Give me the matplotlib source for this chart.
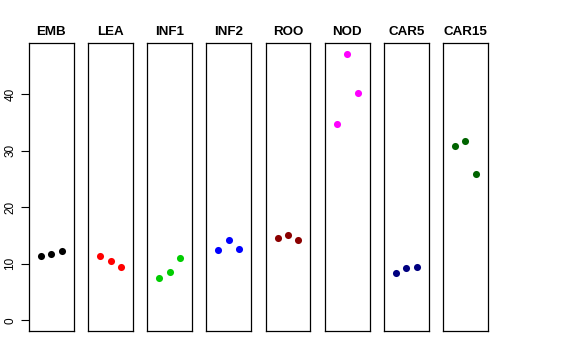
import matplotlib.pyplot as plt

plt.rcParams['font.family'] = ['Liberation Sans', 'DejaVu Sans']

# groups and their three replicate values
groups = ['EMB', 'LEA', 'INF1', 'INF2', 'ROO', 'NOD', 'CAR5', 'CAR15']
values = [
    [11.4, 11.8, 12.35],
    [11.35, 10.5, 9.4],
    [7.45, 8.5, 11.05],
    [12.5, 14.2, 12.6],
    [14.6, 15.1, 14.25],
    [34.8, 47.2, 40.3],
    [8.35, 9.2, 9.5],
    [30.9, 31.8, 25.9],
]
colors = ['black', 'red', '#00CD00', 'blue', '#8B0000', 'magenta', '#000080', '#006400']
yticks = [0, 10, 20, 30, 40]

fig = plt.figure(figsize=(5.76, 3.6), dpi=100)

ymax = max(max(v) for v in values)
pad_y = ymax * 0.04
W, H = 576.0, 360.0
left0, step, pw = 29.0, 59.15, 44.8
bottom, top = 331.0, 43.0

for i, (g, v, c) in enumerate(zip(groups, values, colors)):
    x0 = left0 + i * step
    ax = fig.add_axes([x0 / W, (H - bottom) / H, pw / W, (bottom - top) / H])
    ax.scatter([1, 2, 3], v, s=26, color=c, zorder=3, linewidths=0)
    ax.set_xlim(-0.16, 4.16)
    ax.set_ylim(-pad_y, ymax + pad_y)
    ax.set_xticks([])
    ax.set_title(g, fontsize=9.6, fontweight='bold', pad=6)
    for s in ax.spines.values():
        s.set_color('black')
        s.set_linewidth(0.9)
    if i == 0:
        ax.set_yticks(yticks)
        ax.set_yticklabels([str(t) for t in yticks], rotation=90, va='center', fontsize=8.5)
        ax.tick_params(axis='y', length=6, width=0.8, pad=3)
    else:
        ax.set_yticks([])

plt.savefig('out.png', dpi=100)
